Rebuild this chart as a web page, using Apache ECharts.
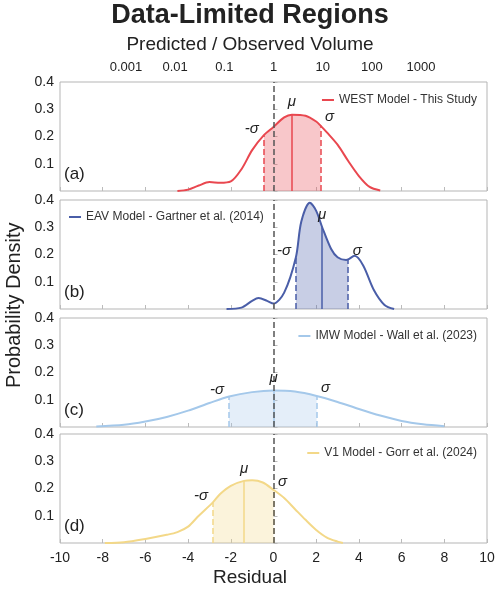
<!DOCTYPE html>
<html><head><meta charset="utf-8">
<script src="https://cdn.jsdelivr.net/npm/echarts@6/dist/echarts.min.js"></script>
<style>html,body{margin:0;padding:0;background:#fff}#c{width:500px;height:593px}</style>
</head><body><div id="c"></div>
<script>
// curves (residual, density)
const westX = [-4.5,-4,-3.5,-3,-2.5,-2,-1.5,-1,-0.45,0,0.5,0.86,1.5,2,2.2,2.5,3,3.5,4,4.5,5];
const westY = [0,0.005,0.02,0.033,0.03,0.035,0.08,0.15,0.205,0.235,0.27,0.28,0.276,0.255,0.24,0.215,0.17,0.11,0.055,0.015,0.002];
const eavX = [-2.2,-1.5,-1,-0.7,-0.3,0,0.5,1.05,1.3,1.7,2,2.28,2.7,3,3.4,3.5,3.8,4.2,4.7,5.2,5.65];
const eavY = [0,0.005,0.03,0.04,0.03,0.02,0.06,0.19,0.32,0.39,0.36,0.3,0.22,0.19,0.18,0.182,0.195,0.16,0.07,0.015,0];
const imwX = [-8.3,-7,-6,-5,-4,-3,-2.08,-1,0,1,2.02,3,4,5,6,7,8];
const imwY = [0.002,0.008,0.02,0.037,0.06,0.088,0.112,0.128,0.134,0.13,0.114,0.092,0.066,0.042,0.022,0.01,0.003];
const v1X = [-7.9,-7,-6,-5,-4.5,-4,-3.5,-2.83,-2.5,-2,-1.38,-1,-0.5,0,0.5,1,1.5,2,2.5,3,3.25];
const v1Y = [0,0.003,0.015,0.03,0.04,0.06,0.1,0.15,0.18,0.21,0.228,0.23,0.222,0.195,0.165,0.125,0.085,0.048,0.02,0.005,0];

const names = ['WEST Model - This Study','EAV Model - Gartner et al. (2014)','IMW Model - Wall et al. (2023)','V1 Model - Gorr et al. (2024)'];
const colors = ['#e9474f','#4a5ea8','#a4c8ea','#f3d888'];
const fills = ['rgba(233,71,79,0.3)','rgba(74,94,168,0.3)','rgba(164,200,234,0.3)','rgba(243,216,136,0.3)'];
const means = [0.86,2.28,0,-1.38];
const sigLo = [-0.45,1.05,-2.08,-2.83];
const sigHi = [2.2,3.5,2.02,0];
const letters = ['(a)','(b)','(c)','(d)'];
const curvesX = [westX,eavX,imwX,v1X];
const curvesY = [westY,eavY,imwY,v1Y];

const topTicks = [0.001,0.01,0.1,1,10,100,1000];
const yTicks = ['0.1','0.2','0.3','0.4'];

const tops = [82,200,318,434], h = 109;
const legendPos = [{right:18,top:89},{left:64,top:206},{right:18,top:325},{right:18,top:442}];

const grid=[],xAxis=[],yAxis=[],series=[],legend=[],graphic=[];
const font='"Liberation Sans", Arial, sans-serif';

for (let i=0;i<4;i++){
  grid.push({left:60,right:13,top:tops[i],height:h,show:true,borderColor:'#b5b5b5',borderWidth:1});
  xAxis.push({type:'value',gridIndex:i,min:-10,max:10,interval:2,
    axisLine:{show:false},splitLine:{show:false},
    axisTick:{inside:true,length:4,lineStyle:{color:'#bbb'}},
    axisLabel:{show:i===3,color:'#222',fontSize:14,fontFamily:font,margin:8}});
  yAxis.push({type:'value',gridIndex:i,min:0,max:0.4,interval:0.1,
    axisLine:{show:false},splitLine:{show:false},
    axisTick:{inside:true,length:4,lineStyle:{color:'#bbb'}},
    axisLabel:{color:'#222',fontSize:14,fontFamily:font,margin:6,
      formatter:v=>{const s=Number(v).toFixed(1);return yTicks.includes(s)?s:'';}}});
  const xs=curvesX[i], ys=curvesY[i];
  const data=xs.map((x,k)=>[x,ys[k]]);
  const yAt=x=>ys[xs.indexOf(x)];
  const shade=data.filter(p=>p[0]>=sigLo[i]-1e-9&&p[0]<=sigHi[i]+1e-9);
  const lbl=(t,dx,dy)=>({show:true,formatter:t,position:'end',offset:[dx,dy],
    color:'#222',fontSize:15,fontStyle:'italic',fontFamily:font});
  series.push({type:'line',name:names[i],xAxisIndex:i,yAxisIndex:i,data:data,smooth:0.3,
    showSymbol:false,color:colors[i],lineStyle:{width:2,color:colors[i]},z:3,
    markLine:{silent:true,symbol:'none',animation:false,data:[
      [{coord:[means[i],0],lineStyle:{type:'solid',width:1.5,color:colors[i]}},
       {coord:[means[i],yAt(means[i])],label:lbl('μ',0,0)}],
      [{coord:[sigLo[i],0],lineStyle:{type:'dashed',width:1.5,color:colors[i]}},
       {coord:[sigLo[i],yAt(sigLo[i])],label:lbl('-σ',-12,6)}],
      [{coord:[sigHi[i],0],lineStyle:{type:'dashed',width:1.5,color:colors[i]}},
       {coord:[sigHi[i],yAt(sigHi[i])],label:lbl('σ',9,4)}],
      {xAxis:0,lineStyle:{type:'dashed',width:1.5,color:'#555'},label:{show:false}}
    ]}});
  series.push({type:'line',xAxisIndex:i,yAxisIndex:i,data:shade,smooth:0.3,showSymbol:false,
    lineStyle:{width:0},areaStyle:{color:fills[i],opacity:1},z:2,silent:true});
  legend.push(Object.assign({data:[names[i]],icon:'rect',itemWidth:12,itemHeight:2,
    textStyle:{fontSize:12,color:'#333',fontFamily:font},selectedMode:false},legendPos[i]));
  graphic.push({type:'text',left:64,top:tops[i]+h-25,style:{text:letters[i],font:'17px '+font,fill:'#222'}});
}
// top log axis (natural log of ratio)
xAxis.push({type:'value',gridIndex:0,position:'top',min:-10,max:10,
  axisLine:{show:false},splitLine:{show:false},axisTick:{show:false},
  axisLabel:{customValues:topTicks.map(v=>Math.log(v)),color:'#222',fontSize:13,fontFamily:font,margin:8,
    formatter:v=>String(topTicks.find(t=>Math.abs(Math.log(t)-v)<1e-6))}});

graphic.push({type:'text',left:'center',top:2,style:{text:'Data-Limited Regions',font:'bold 27px '+font,fill:'#222'}});
graphic.push({type:'text',left:'center',top:35,style:{text:'Predicted / Observed Volume',font:'19px '+font,fill:'#222'}});
graphic.push({type:'text',left:'center',top:568,style:{text:'Residual',font:'19px '+font,fill:'#222'}});
graphic.push({type:'text',x:4,y:388,rotation:Math.PI/2,style:{text:'Probability Density',font:'20px '+font,fill:'#222'}});

echarts.init(document.getElementById('c')).setOption({animation:false,grid,xAxis,yAxis,series,legend,graphic});
</script></body></html>
